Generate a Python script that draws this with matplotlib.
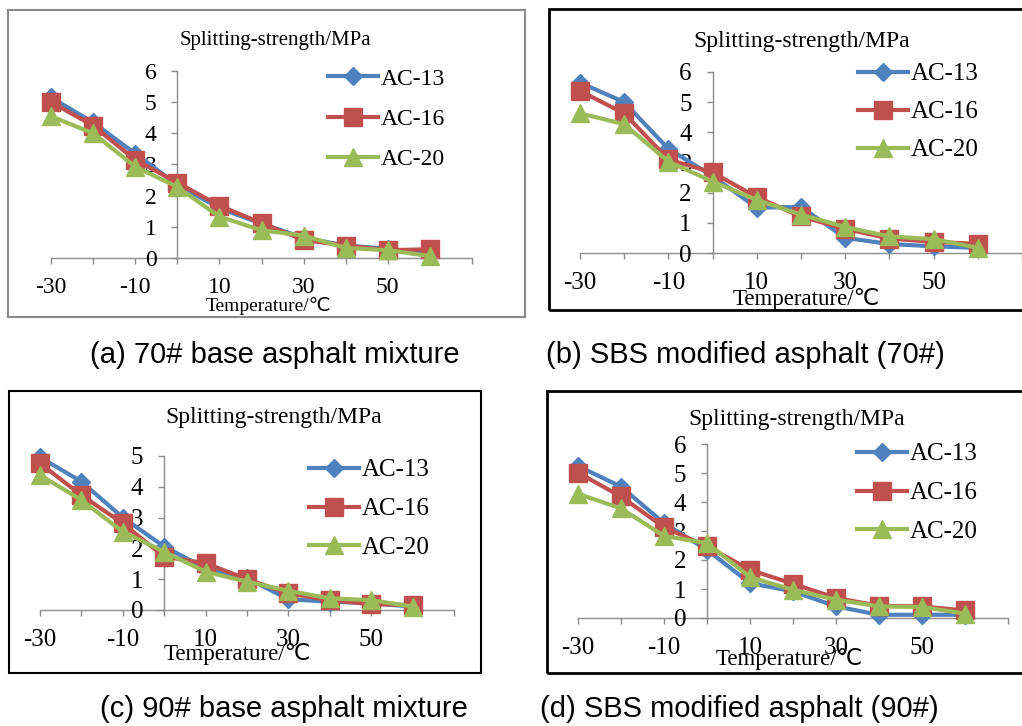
import matplotlib
matplotlib.use("Agg")
import matplotlib.pyplot as plt
from matplotlib.patches import Rectangle

W, H = 1022, 726

temps = [-30, -20, -10, 0, 10, 20, 30, 40, 50, 60]
series_names = ["AC-13", "AC-16", "AC-20"]

# splitting strength (MPa) per panel
a13 = [5.15, 4.35, 3.35, 2.35, 1.60, 1.10, 0.65, 0.40, 0.30, 0.15]
a16 = [5.00, 4.25, 3.15, 2.42, 1.68, 1.12, 0.58, 0.40, 0.25, 0.28]
a20 = [4.55, 4.00, 2.93, 2.28, 1.33, 0.89, 0.72, 0.32, 0.25, 0.06]

b13 = [5.65, 5.00, 3.45, 2.55, 1.50, 1.53, 0.50, 0.30, 0.22, 0.17]
b16 = [5.37, 4.63, 3.10, 2.67, 1.85, 1.21, 0.80, 0.48, 0.37, 0.30]
b20 = [4.63, 4.27, 3.03, 2.37, 1.76, 1.27, 0.86, 0.55, 0.46, 0.17]

c13 = [4.96, 4.17, 3.00, 2.06, 1.35, 1.03, 0.35, 0.27, 0.22, 0.11]
c16 = [4.76, 3.73, 2.81, 1.73, 1.52, 1.00, 0.54, 0.32, 0.19, 0.16]
c20 = [4.38, 3.57, 2.54, 1.89, 1.24, 0.92, 0.62, 0.38, 0.32, 0.11]

d13 = [5.24, 4.53, 3.27, 2.35, 1.20, 0.92, 0.40, 0.11, 0.11, 0.11]
d16 = [5.01, 4.19, 3.13, 2.47, 1.66, 1.18, 0.69, 0.42, 0.40, 0.26]
d20 = [4.28, 3.78, 2.83, 2.58, 1.41, 0.97, 0.63, 0.40, 0.38, 0.15]

captions = ["(a) 70# base asphalt mixture", "(b) SBS modified asphalt (70#)",
            "(c) 90# base asphalt mixture", "(d) SBS modified asphalt (90#)"]

xticks = [-30, -20, -10, 0, 10, 20, 30, 40, 50, 60, 70]
xlabels = ["-30", "", "-10", "", "10", "", "30", "", "50", "", ""]

colors = ["#4F81BD", "#C0504D", "#9BBB59"]
markers = ["D", "s", "^"]
msizes = [9, 13, 13]

serif = ["Liberation Serif", "DejaVu Sans"]
sans = ["Liberation Sans", "DejaVu Sans"]

# pixel layout of each panel (from the top-left corner of the picture)
panels = [
    dict(data=[a13, a16, a20], x0=51, x1=472, y0=258, yt=71, ymax=6,
         box=(8, 10, 525, 317), boxc="#8a8a8a", boxlw=1.5,
         title=(275, 40), xlab=(268, 306), leg=(328, 68), lsp=0.8, cap=(275, 355),
         fs_t=15, fs_tick=17, fs_x=14, fs_leg=17),
    dict(data=[b13, b16, b20], x0=580, x1=1022, y0=253, yt=72, ymax=6,
         box=(549, 9, 1040, 310), boxc="black", boxlw=2,
         title=(802, 42), xlab=(806, 299), leg=(858, 63), lsp=0.62, cap=(745, 355),
         fs_t=17, fs_tick=18, fs_x=16.5, fs_leg=18),
    dict(data=[c13, c16, c20], x0=40, x1=454, y0=610, yt=456, ymax=5,
         box=(9, 391, 481, 673), boxc="black", boxlw=1.5,
         title=(274, 417), xlab=(237, 654), leg=(309, 459), lsp=0.65, cap=(284, 709),
         fs_t=17, fs_tick=18, fs_x=16.5, fs_leg=18),
    dict(data=[d13, d16, d20], x0=578, x1=1008, y0=618, yt=444, ymax=6,
         box=(547, 391, 1040, 673), boxc="black", boxlw=2,
         title=(797, 419), xlab=(789, 659), leg=(857, 443), lsp=0.65, cap=(739, 709),
         fs_t=17, fs_tick=18, fs_x=16.5, fs_leg=18),
]

fig = plt.figure(figsize=(W / 100, H / 100), dpi=100)
fig.patch.set_facecolor("white")


def fx(px):
    return px / W


def fy(py):
    return 1 - py / H


for p, cap in zip(panels, captions):
    bx0, by0, bx1, by1 = p["box"]
    fig.add_artist(Rectangle((fx(bx0), fy(by1)), fx(bx1 - bx0), (by1 - by0) / H,
                             transform=fig.transFigure, fill=False,
                             ec=p["boxc"], lw=p["boxlw"]))

    ax = fig.add_axes([fx(p["x0"]), fy(p["y0"]), fx(p["x1"] - p["x0"]),
                       (p["y0"] - p["yt"]) / H])
    ax.set_facecolor("none")

    lines = []
    for vals, name, c, m, ms in zip(p["data"], series_names, colors, markers, msizes):
        ln, = ax.plot(temps, vals, color=c, lw=3, marker=m, ms=ms,
                      mfc=c, mec=c, label=name, clip_on=False)
        lines.append(ln)

    ax.set_xlim(-30, 70)
    ax.set_ylim(0, p["ymax"])
    ax.spines["top"].set_visible(False)
    ax.spines["right"].set_visible(False)
    ax.spines["left"].set_position(("data", 0))
    for s in ["left", "bottom"]:
        ax.spines[s].set_color("#8c8c8c")
        ax.spines[s].set_linewidth(1.0)
        ax.spines[s].set_zorder(0)

    ax.set_xticks(xticks)
    ax.set_xticklabels(xlabels)
    ax.set_yticks(range(0, p["ymax"] + 1))
    ax.tick_params(axis="both", direction="out", length=4, width=1.0,
                   color="#8c8c8c", labelsize=p["fs_tick"])
    ax.tick_params(axis="x", pad=10)
    ax.tick_params(axis="y", pad=11)
    for t in ax.get_xticklabels() + ax.get_yticklabels():
        t.set_family(serif)

    fig.text(fx(p["title"][0]), fy(p["title"][1]), "Splitting-strength/MPa",
             ha="center", va="center", fontsize=p["fs_t"], family=serif)
    fig.text(fx(p["xlab"][0]), fy(p["xlab"][1]), "Temperature/\u2103",
             ha="center", va="center", fontsize=p["fs_x"], family=serif)

    ax.legend(handles=lines, loc="upper left",
              bbox_to_anchor=(fx(p["leg"][0]), fy(p["leg"][1])),
              bbox_transform=fig.transFigure, frameon=False,
              handlelength=36 / p["fs_leg"], handletextpad=0.1,
              labelspacing=p["lsp"], borderpad=0, borderaxespad=0,
              prop=dict(family=serif, size=p["fs_leg"]))

    fig.text(fx(p["cap"][0]), fy(p["cap"][1]), cap, ha="center", va="center",
             fontsize=21, family=sans)

fig.savefig("out.png", dpi=100)
